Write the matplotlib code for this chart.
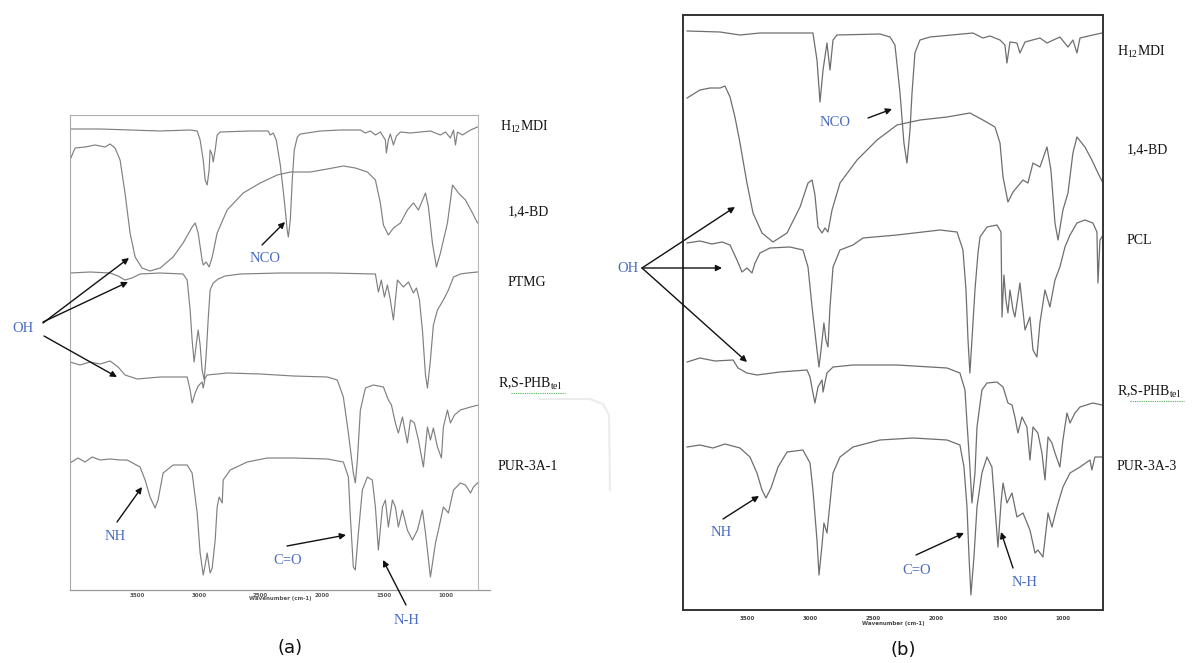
import matplotlib
matplotlib.use('Agg')
import matplotlib.pyplot as plt

plt.rcParams['mathtext.fontset'] = 'custom'
plt.rcParams['mathtext.rm'] = 'Liberation Serif'
plt.rcParams['mathtext.it'] = 'Liberation Serif:italic'

# ---------------- Panel (a) spectra: wavenumber (cm-1) and stacked transmittance (a.u.) ----------------
a_h12mdi_wn = [4045, 3801, 3558, 3314, 3071, 3014, 2990, 2965, 2949, 2933, 2917, 2909, 2892, 2884, 2868, 2852,
               2827, 2584, 2438, 2422, 2397, 2373, 2340, 2308, 2284, 2275, 2259, 2243, 2227, 2202, 2178, 2016,
               1853, 1691, 1650, 1610, 1569, 1529, 1488, 1480, 1464, 1448, 1423, 1399, 1366, 1285, 1204, 1123,
               1042, 1001, 961, 936, 920, 904, 863, 798, 741]
a_h12mdi_t = [461, 461, 460, 459, 460, 459, 450, 430, 410, 405, 420, 440, 435, 428, 440, 455,
              458, 459, 459, 455, 457, 450, 425, 390, 360, 353, 370, 410, 440, 453, 456, 459,
              460, 460, 457, 459, 455, 458, 450, 437, 450, 456, 445, 454, 458, 457, 458, 459,
              455, 458, 452, 460, 445, 458, 455, 460, 463]

a_bd_wn = [4045, 4004, 3923, 3842, 3761, 3720, 3680, 3639, 3599, 3558, 3517, 3461, 3396, 3314, 3209, 3128,
           3055, 3030, 3006, 2974, 2965, 2941, 2917, 2892, 2852, 2771, 2641, 2503, 2365, 2259, 2097, 1959,
           1829, 1732, 1634, 1569, 1529, 1504, 1464, 1423, 1366, 1310, 1261, 1220, 1163, 1139, 1107, 1074,
           1042, 985, 944, 896, 839, 782, 741]
a_bd_t = [430, 442, 443, 445, 443, 446, 442, 430, 397, 357, 333, 322, 319, 322, 333, 347,
          363, 367, 357, 330, 325, 328, 323, 333, 357, 380, 397, 407, 415, 418, 418, 421,
          424, 422, 418, 410, 387, 365, 355, 362, 367, 380, 387, 380, 397, 383, 347, 323,
          337, 367, 405, 397, 390, 377, 367]

a_ptmg_wn = [4045, 3883, 3720, 3655, 3599, 3542, 3477, 3314, 3128, 3095, 3071, 3055, 3039, 3022, 3006, 2990,
             2974, 2957, 2941, 2925, 2909, 2884, 2844, 2787, 2665, 2340, 1935, 1569, 1545, 1521, 1496, 1472,
             1448, 1423, 1407, 1391, 1342, 1301, 1261, 1236, 1212, 1188, 1163, 1147, 1123, 1099, 1066, 1018,
             977, 936, 880, 823, 741]
a_ptmg_t = [317, 318, 317, 314, 310, 312, 316, 317, 316, 310, 280, 250, 228, 245, 260, 245,
            220, 210, 235, 270, 300, 307, 311, 314, 316, 317, 317, 316, 298, 310, 293, 305,
            290, 270, 290, 310, 303, 308, 297, 302, 290, 260, 215, 202, 230, 265, 280, 290,
            300, 313, 316, 317, 318]

a_phb_wn = [4045, 3964, 3883, 3801, 3720, 3655, 3599, 3501, 3314, 3095, 3071, 3055, 3030, 3006, 2974, 2965,
            2949, 2933, 2771, 2503, 2235, 1959, 1878, 1829, 1788, 1748, 1732, 1715, 1691, 1650, 1586, 1504,
            1464, 1439, 1407, 1383, 1350, 1310, 1285, 1253, 1220, 1180, 1147, 1123, 1099, 1066, 1034, 1018,
            985, 961, 928, 880, 798, 733]
a_phb_t = [228, 225, 228, 226, 229, 223, 215, 211, 213, 213, 200, 187, 197, 204, 208, 202,
           212, 215, 217, 216, 214, 213, 210, 193, 157, 117, 107, 130, 180, 202, 205, 203,
           190, 185, 167, 157, 173, 147, 170, 167, 150, 123, 163, 150, 162, 143, 132, 163,
           180, 167, 175, 180, 183, 185]

a_pur_wn = [4045, 3980, 3923, 3866, 3801, 3720, 3639, 3582, 3477, 3436, 3396, 3355, 3331, 3290, 3209, 3095,
            3055, 3014, 2990, 2965, 2949, 2933, 2909, 2892, 2868, 2852, 2836, 2811, 2803, 2746, 2608, 2446,
            2235, 1959, 1829, 1788, 1772, 1748, 1732, 1707, 1675, 1634, 1594, 1569, 1545, 1512, 1488, 1464,
            1431, 1407, 1383, 1350, 1310, 1269, 1228, 1188, 1163, 1123, 1082, 1058, 1018, 977, 936, 880,
            839, 798, 774, 733]
a_pur_t = [127, 132, 128, 133, 130, 131, 130, 130, 123, 110, 93, 82, 90, 117, 125, 125,
           117, 77, 37, 15, 25, 37, 17, 22, 50, 83, 93, 87, 110, 120, 128, 132,
           132, 131, 128, 113, 73, 23, 20, 57, 100, 113, 110, 83, 40, 83, 90, 63,
           90, 83, 63, 80, 60, 50, 60, 80, 57, 13, 47, 60, 83, 77, 100, 107,
           105, 97, 103, 108]

# ---------------- Panel (b) spectra ----------------
b_h12mdi_wn = [3974, 3713, 3555, 3397, 3160, 2978, 2946, 2922, 2898, 2867, 2843, 2819, 2788, 2448, 2368, 2329,
               2289, 2258, 2234, 2210, 2194, 2171, 2131, 2052, 1712, 1633, 1577, 1498, 1459, 1443, 1419, 1364,
               1340, 1300, 1182, 1126, 1024, 960, 921, 889, 865, 763, 691]
b_h12mdi_t = [579, 578, 575, 577, 577, 577, 550, 508, 540, 567, 540, 570, 575, 576, 573, 565,
              517, 467, 447, 480, 517, 557, 570, 573, 577, 572, 574, 570, 565, 547, 568, 567,
              557, 568, 572, 567, 573, 563, 570, 557, 572, 575, 577]

b_bd_wn = [3974, 3872, 3792, 3713, 3674, 3634, 3595, 3555, 3500, 3452, 3381, 3294, 3183, 3080, 3017, 2985,
           2962, 2938, 2906, 2883, 2859, 2827, 2764, 2629, 2471, 2313, 2131, 1917, 1736, 1633, 1538, 1498,
           1474, 1435, 1395, 1316, 1277, 1237, 1182, 1126, 1095, 1063, 1039, 1000, 960, 921, 889, 826,
           771, 723, 683]
b_bd_t = [512, 520, 522, 522, 524, 513, 493, 467, 427, 397, 377, 368, 377, 403, 427, 430,
          415, 383, 377, 382, 378, 400, 427, 450, 470, 485, 490, 493, 497, 490, 483, 467,
          433, 408, 418, 430, 427, 447, 443, 463, 440, 387, 370, 400, 417, 457, 473, 463,
          450, 437, 427]

b_pcl_wn = [3974, 3872, 3777, 3697, 3634, 3579, 3539, 3500, 3460, 3436, 3397, 3318, 3160, 3057, 3017, 2985,
            2946, 2930, 2914, 2891, 2875, 2859, 2843, 2819, 2764, 2661, 2582, 2313, 1973, 1838, 1791, 1767,
            1751, 1736, 1720, 1696, 1672, 1656, 1601, 1522, 1490, 1482, 1467, 1451, 1435, 1419, 1395, 1380,
            1340, 1300, 1261, 1237, 1206, 1182, 1142, 1103, 1063, 1024, 984, 944, 889, 826, 763, 731,
            723, 707, 683]
b_pcl_t = [367, 369, 366, 368, 365, 350, 338, 342, 337, 347, 357, 362, 363, 360, 343, 303,
           260, 243, 260, 287, 270, 263, 303, 343, 360, 365, 372, 375, 380, 378, 360, 320,
           270, 237, 270, 320, 357, 373, 383, 385, 378, 293, 335, 310, 297, 320, 300, 293,
           327, 280, 293, 260, 253, 287, 320, 303, 330, 343, 363, 375, 387, 390, 387, 378,
           327, 370, 375]

b_phb_wn = [3974, 3872, 3753, 3610, 3571, 3500, 3421, 3239, 3025, 3001, 2978, 2962, 2938, 2906, 2898, 2867,
            2819, 2661, 2313, 1917, 1815, 1775, 1759, 1736, 1720, 1696, 1680, 1641, 1601, 1522, 1474, 1435,
            1403, 1380, 1356, 1324, 1285, 1261, 1237, 1198, 1166, 1142, 1118, 1087, 1063, 1024, 1000, 968,
            944, 905, 865, 763, 691]
b_phb_t = [248, 252, 249, 250, 242, 237, 235, 238, 240, 233, 217, 207, 223, 230, 218, 237,
           243, 245, 245, 242, 237, 220, 187, 143, 107, 137, 183, 220, 227, 228, 223, 207,
           205, 193, 177, 193, 183, 150, 183, 177, 157, 130, 173, 167, 157, 143, 170, 197,
           187, 197, 203, 207, 205]

b_pur_wn = [3974, 3872, 3769, 3674, 3555, 3476, 3421, 3381, 3349, 3310, 3254, 3183, 3057, 3001, 2978, 2946,
            2930, 2906, 2891, 2867, 2851, 2819, 2764, 2661, 2448, 2186, 1917, 1815, 1783, 1759, 1743, 1728,
            1704, 1680, 1641, 1601, 1562, 1538, 1514, 1490, 1474, 1443, 1403, 1364, 1316, 1261, 1221, 1198,
            1158, 1118, 1087, 1047, 1000, 944, 865, 786, 771, 747, 691]
b_pur_t = [163, 165, 162, 166, 162, 153, 137, 120, 112, 122, 143, 158, 160, 147, 120, 70,
           35, 65, 87, 77, 97, 137, 153, 163, 170, 172, 170, 165, 143, 103, 53, 15,
           53, 103, 137, 153, 143, 103, 63, 107, 127, 107, 117, 93, 97, 80, 57, 60,
           53, 97, 83, 103, 123, 137, 143, 150, 140, 153, 153]

labels_a = ['H$_{\\mathregular{12}}$MDI', '1,4-BD', 'PTMG', 'R,S-PHB$_{\\mathregular{tel}}$', 'PUR-3A-1']
labels_b = ['H$_{\\mathregular{12}}$MDI', '1,4-BD', 'PCL', 'R,S-PHB$_{\\mathregular{tel}}$', 'PUR-3A-3']
tick_values = [3500, 3000, 2500, 2000, 1500, 1000]
tick_labels = ['3500', '3000', '2500', '2000', '1500', '1000']

W, H = 1198, 663
fig = plt.figure(figsize=(W / 100, H / 100), dpi=100)

def fx(px):
    return px / W

def fy(py):
    return 1 - py / H

SERIF = 'Liberation Serif'
BLUE = '#4a6cc2'

# ---------- axes (a) ----------
axa = fig.add_axes([fx(70), fy(590), fx(490) - fx(70), fy(115) - fy(590)])
axa.set_xlim(4045, 640)
axa.set_ylim(0, 475)
for wn, t in [(a_h12mdi_wn, a_h12mdi_t), (a_bd_wn, a_bd_t), (a_ptmg_wn, a_ptmg_t),
              (a_phb_wn, a_phb_t), (a_pur_wn, a_pur_t)]:
    axa.plot(wn, t, color='#808080', lw=0.85)
for s in ['top', 'right']:
    axa.spines[s].set_visible(False)
axa.spines['left'].set_color('#a8a8a8')
axa.spines['bottom'].set_color('#9a9a9a')
axa.spines['left'].set_linewidth(0.8)
axa.spines['bottom'].set_linewidth(0.9)
axa.plot([4045, 741], [475, 475], color='#b0b0b0', lw=0.8, clip_on=False)
axa.plot([741, 741], [0, 475], color='#b8b8b8', lw=0.8, clip_on=False)
axa.set_yticks([])
axa.set_xticks(tick_values)
axa.set_xticklabels(tick_labels, fontsize=4, color='#555555', fontweight='bold')
axa.tick_params(axis='x', length=0, pad=2)
axa.set_xlabel('Wavenumber (cm-1)', fontsize=4, color='#555555', fontweight='bold', labelpad=-1)

# ---------- axes (b) ----------
axb = fig.add_axes([fx(683), fy(610), fx(1103) - fx(683), fy(15) - fy(610)])
axb.set_xlim(4006, 683)
axb.set_ylim(0, 595)
for wn, t in [(b_h12mdi_wn, b_h12mdi_t), (b_bd_wn, b_bd_t), (b_pcl_wn, b_pcl_t),
              (b_phb_wn, b_phb_t), (b_pur_wn, b_pur_t)]:
    axb.plot(wn, t, color='#6e6e6e', lw=0.9)
for s in axb.spines.values():
    s.set_color('#333333')
    s.set_linewidth(1.4)
axb.set_yticks([])
axb.set_xticks(tick_values)
axb.set_xticklabels(tick_labels, fontsize=4, color='#444444', fontweight='bold')
axb.tick_params(axis='x', length=0, pad=4)
axb.set_xlabel('Wavenumber (cm-1)', fontsize=4, color='#444444', fontweight='bold', labelpad=0)

# ---------- sample labels ----------
la_pos = [(500, 127), (508, 212), (508, 283), (498, 384), (498, 467)]
for (x, y), lab in zip(la_pos, labels_a):
    fig.text(fx(x), fy(y), lab, fontsize=10, family=SERIF, va='center', ha='left', color='#111111')
lb_pos = [(1117, 52), (1127, 150), (1127, 240), (1117, 392), (1117, 466)]
for (x, y), lab in zip(lb_pos, labels_b):
    fig.text(fx(x), fy(y), lab, fontsize=10, family=SERIF, va='center', ha='left', color='#111111')

# green spell-check underline
fig.lines.append(plt.Line2D([fx(511), fx(565)], [fy(393), fy(393)], color='#4caf50', lw=0.8,
                            ls=(0, (1, 1)), transform=fig.transFigure))
fig.lines.append(plt.Line2D([fx(1130), fx(1184)], [fy(401), fy(401)], color='#4caf50', lw=0.8,
                            ls=(0, (1, 1)), transform=fig.transFigure))

# faint bracket artifact
fig.lines.append(plt.Line2D([fx(540), fx(590), fx(603), fx(609), fx(610)],
                            [fy(399), fy(399), fy(404), fy(415), fy(490)], color='#ececec', lw=1.5,
                            transform=fig.transFigure))

# ---------- annotations ----------
def arrow(x1, y1, x2, y2):
    fig.add_artist(matplotlib.patches.FancyArrowPatch(
        (fx(x1), fy(y1)), (fx(x2), fy(y2)), transform=fig.transFigure,
        arrowstyle='-|>', mutation_scale=9, color='#111111', lw=1.0, shrinkA=0, shrinkB=0))

def blue(x, y, s):
    fig.text(fx(x), fy(y), s, fontsize=10.5, family=SERIF, color=BLUE, ha='center', va='center')

# panel (a)
blue(23, 329, 'OH')
arrow(43, 323, 129, 258)
arrow(43, 322, 128, 282)
arrow(44, 336, 117, 377)
blue(265, 259, 'NCO')
arrow(262, 245, 285, 222)
blue(115, 537, 'NH')
arrow(117, 522, 142, 487)
blue(288, 560, 'C=O')
arrow(287, 546, 346, 535)
blue(407, 621, 'N-H')
arrow(406, 605, 383, 560)

# panel (b)
blue(628, 268, 'OH')
arrow(642, 268, 735, 207)
arrow(642, 268, 722, 268)
arrow(642, 268, 747, 362)
blue(835, 123, 'NCO')
arrow(868, 118, 892, 109)
blue(721, 533, 'NH')
arrow(723, 519, 759, 496)
blue(917, 570, 'C=O')
arrow(916, 555, 964, 533)
blue(1025, 582, 'N-H')
arrow(1013, 568, 1001, 532)

fig.text(fx(290), fy(648), '(a)', fontsize=13, family='DejaVu Sans', ha='center', va='center', color='#111111')
fig.text(fx(903), fy(650), '(b)', fontsize=13, family='DejaVu Sans', ha='center', va='center', color='#111111')

fig.savefig('out.png', dpi=100, facecolor='white')
